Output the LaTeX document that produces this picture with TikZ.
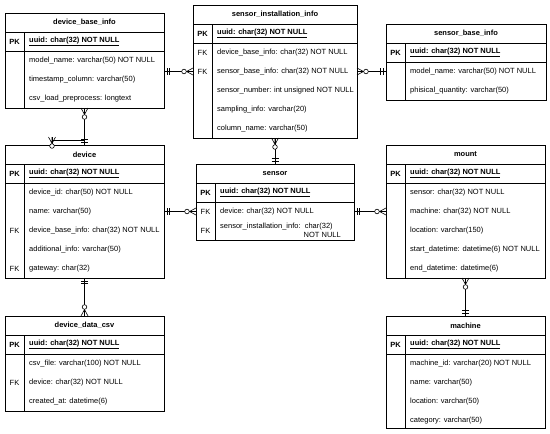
\documentclass[tikz,border=0pt]{standalone}
\usepackage{fontspec}
\setmainfont{Liberation Sans}
\usetikzlibrary{calc}
\tikzset{
  tbox/.style={draw, line width=0.8pt, anchor=north west, inner sep=0pt, outer sep=0pt},
  tline/.style={line width=0.8pt},
  ttl/.style={inner sep=0pt, font=\bfseries\fontsize{7.5}{9}\selectfont},
  fld/.style={anchor=west, inner sep=0pt, font=\fontsize{7.5}{9}\selectfont},
  keyl/.style={inner sep=0pt, font=\fontsize{7.5}{9}\selectfont},
  conn/.style={line width=0.6pt},
  mandone/.pic={\draw[conn] (3,-3.5)--(3,3.5) (5.5,-3.5)--(5.5,3.5);},
  zeromany/.pic={\draw[conn] (0,-3.5)--(6.5,0)--(0,3.5) (0,0)--(6.5,0);
                 \draw[conn,fill=white] (9,0) circle (2.3pt);},
}
\newcommand\ertable[6]{%
  \node[tbox, minimum width=#4pt, minimum height=#5pt] (#1) at (#2,#3) {};
  \node[ttl] (#1-title) at ($(#1.north)+(0,9.5)$) {#6};
  \draw[tline] ($(#1.north west)+(0,19)$) -- ($(#1.north east)+(0,19)$);
  \draw[tline] ($(#1.north west)+(0,38)$) -- ($(#1.north east)+(0,38)$);
  \draw[tline] ($(#1.north west)+(19,19)$) -- ($(#1.south west)+(19,0)$);
  \node[keyl, font=\bfseries\fontsize{7.5}{9}\selectfont] (#1-pk) at ($(#1.north west)+(9.5,28.5)$) {PK};
  \node[fld, font=\bfseries\fontsize{7.5}{9}\selectfont] (#1-id) at ($(#1.north west)+(24,28.5)$) {\underline{uuid: char(32) NOT NULL}};
}
\newcommand\erfield[3]{%
  \node[fld] (#1-f#2) at ($(#1.north west)+(24,{47.5+19*(#2-1)})$) {#3};
}
\newcommand\erkey[3]{%
  \node[keyl] (#1-k#2) at ($(#1.north west)+(9.5,{47.5+19*(#2-1)})$) {#3};
}
\begin{document}
\begin{tikzpicture}[x=1pt,y=-1pt]
\useasboundingbox (0,0) rectangle (550,434);

% device_base_info
\ertable{dbi}{5}{13}{159}{95}{device\_base\_info}
\erfield{dbi}{1}{model\_name: varchar(50) NOT NULL}
\erfield{dbi}{2}{timestamp\_column: varchar(50)}
\erfield{dbi}{3}{csv\_load\_preprocess: longtext}

% sensor_installation_info
\ertable{sii}{193}{5}{164}{133}{sensor\_installation\_info}
\erfield{sii}{1}{device\_base\_info: char(32) NOT NULL}
\erkey{sii}{1}{FK}
\erfield{sii}{2}{sensor\_base\_info: char(32) NOT NULL}
\erkey{sii}{2}{FK}
\erfield{sii}{3}{sensor\_number: int unsigned NOT NULL}
\erfield{sii}{4}{sampling\_info: varchar(20)}
\erfield{sii}{5}{column\_name: varchar(50)}

% sensor_base_info
\ertable{sbi}{386}{24}{160}{76}{sensor\_base\_info}
\erfield{sbi}{1}{model\_name: varchar(50) NOT NULL}
\erfield{sbi}{2}{phisical\_quantity: varchar(50)}

% device
\ertable{dev}{5}{145}{159}{133}{device}
\erfield{dev}{1}{device\_id: char(50) NOT NULL}
\erfield{dev}{2}{name: varchar(50)}
\erfield{dev}{3}{device\_base\_info: char(32) NOT NULL}
\erkey{dev}{3}{FK}
\erfield{dev}{4}{additional\_info: varchar(50)}
\erfield{dev}{5}{gateway: char(32)}
\erkey{dev}{5}{FK}

% sensor
\ertable{sen}{196}{164}{158}{76}{sensor}
\erfield{sen}{1}{device: char(32) NOT NULL}
\erkey{sen}{1}{FK}
\node[fld] (sen-f2) at ($(sen.north west)+(24,62.5)$) {sensor\_installation\_info:\ \ char(32)};
\node[fld, anchor=east] (sen-f2b) at ($(sen.north west)+(145,71)$) {NOT NULL};
\erkey{sen}{2}{FK}

% mount
\ertable{mnt}{386}{145}{159}{133}{mount}
\erfield{mnt}{1}{sensor: char(32) NOT NULL}
\erfield{mnt}{2}{machine: char(32) NOT NULL}
\erfield{mnt}{3}{location: varchar(150)}
\erfield{mnt}{4}{start\_datetime: datetime(6) NOT NULL}
\erfield{mnt}{5}{end\_datetime: datetime(6)}

% device_data_csv
\ertable{ddc}{5}{316}{159}{95}{device\_data\_csv}
\erfield{ddc}{1}{csv\_file: varchar(100) NOT NULL}
\erfield{ddc}{2}{device: char(32) NOT NULL}
\erkey{ddc}{2}{FK}
\erfield{ddc}{3}{created\_at: datetime(6)}

% machine
\ertable{mch}{386}{316}{159}{112}{machine}
\erfield{mch}{1}{machine\_id: varchar(20) NOT NULL}
\erfield{mch}{2}{name: varchar(50)}
\erfield{mch}{3}{location: varchar(50)}
\erfield{mch}{4}{category: varchar(50)}

% connectors
\draw[conn] (dbi.east |- sii-f2) -- (sii.west |- sii-f2);
\pic at (dbi.east |- sii-f2) {mandone};
\pic[rotate=180] at (sii.west |- sii-f2) {zeromany};

\draw[conn] (sii.east |- sii-f2) -- (sbi.west |- sii-f2);
\pic at (sii.east |- sii-f2) {zeromany};
\pic[rotate=180] at (sbi.west |- sii-f2) {mandone};

\draw[conn] (dbi.south) -- (dev.north);
\pic[rotate=-90] at (dbi.south) {zeromany};
\pic[rotate=90] at (dev.north) {mandone};

\coordinate (gw) at ($(dev.north west)+(47,-8)$);
\coordinate (gwb) at ($(dev.north west)+(47,-5)$);
\draw[conn] (gw) -- (gw |- dev.north);
\draw[conn] (gwb) -- (gwb -| dev.north);
\pic[rotate=-90] at (gw) {zeromany};

\draw[conn] (sii.south) -- (sen.north);
\pic[rotate=-90] at (sii.south) {zeromany};
\pic[rotate=90] at (sen.north) {mandone};

\draw[conn] (dev.east |- sen-f1) -- (sen.west |- sen-f1);
\pic at (dev.east |- sen-f1) {mandone};
\pic[rotate=180] at (sen.west |- sen-f1) {zeromany};

\draw[conn] (sen.east |- sen-f1) -- (mnt.west |- sen-f1);
\pic at (sen.east |- sen-f1) {mandone};
\pic[rotate=180] at (mnt.west |- sen-f1) {zeromany};

\draw[conn] (dev.south) -- (ddc.north);
\pic[rotate=-90] at (dev.south) {mandone};
\pic[rotate=90] at (ddc.north) {zeromany};

\draw[conn] (mnt.south) -- (mch.north);
\pic[rotate=-90] at (mnt.south) {zeromany};
\pic[rotate=90] at (mch.north) {mandone};
\end{tikzpicture}
\end{document}
